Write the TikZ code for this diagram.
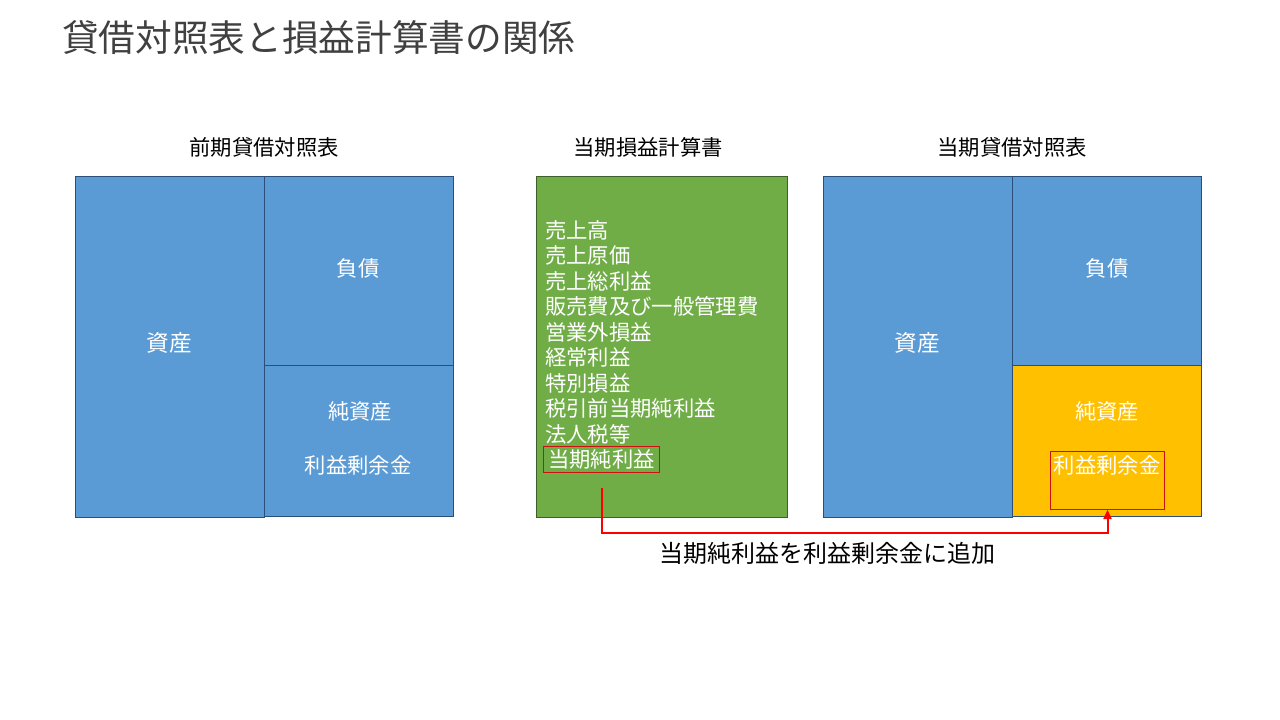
\documentclass[tikz,border=0pt]{standalone}
\usepackage{fontspec}
\setmainfont{Noto Sans CJK JP}
\usetikzlibrary{arrows.meta}
\definecolor{bsblue}{HTML}{5B9BD5}
\definecolor{bsedge}{HTML}{2B4F78}
\definecolor{plgreen}{HTML}{70AD47}
\definecolor{pledge}{HTML}{3F5F2A}
\definecolor{eqyellow}{HTML}{FFC000}
\definecolor{titlegray}{HTML}{404040}
\definecolor{boxred}{HTML}{D01010}
\definecolor{arrowred}{HTML}{FF0000}
\begin{document}
\begin{tikzpicture}[x=0.75pt,y=-0.75pt,
    blk/.style={fill=bsblue,draw=bsedge,line width=0.75pt},
    inbox/.style={text=white,inner sep=0,font=\fontsize{16}{19}\selectfont},
    head/.style={inner sep=0,font=\fontsize{16}{19}\selectfont}]
\useasboundingbox (0,0) rectangle (1280,720);

\node[anchor=west,inner sep=0,text=titlegray,font=\fontsize{27.5}{32}\selectfont] (title) at (62,38) {貸借対照表と損益計算書の関係};

\node[head] (h1) at (264,147) {前期貸借対照表};
\node[head] (h2) at (648,147) {当期損益計算書};
\node[head] (h3) at (1012,147) {当期貸借対照表};

% previous balance sheet
\filldraw[blk] (75,177) rectangle (264,517);
\filldraw[blk] (264,177) rectangle (453,365);
\filldraw[blk] (264,365) rectangle (453,516);
\node[inbox,font=\fontsize{17}{20}\selectfont] (a1) at (169,343) {資産};
\node[inbox] (d1) at (358,268) {負債};
\node[inbox] (e1) at (360,411) {純資産};
\node[inbox] (r1) at (358,465) {利益剰余金};

% income statement
\filldraw[fill=plgreen,draw=pledge,line width=0.75pt] (536,177) rectangle (787,517);
\foreach \t [count=\i] in {売上高,売上原価,売上総利益,販売費及び一般管理費,営業外損益,経常利益,特別損益,税引前当期純利益,法人税等}
    \node[inbox,anchor=west] (pl\i) at (545,{230+25.5*(\i-1)}) {\t};
\node[inbox,anchor=west,draw=boxred,line width=0.75pt,inner xsep=3.5pt,minimum height=19.5pt] (np) at (543,459) {当期純利益};

% current balance sheet
\filldraw[blk] (823,177) rectangle (1012,517);
\filldraw[blk] (1012,177) rectangle (1201,365);
\filldraw[fill=eqyellow,draw=bsedge,line width=0.75pt] (1012,365) rectangle (1201,516);
\node[inbox,font=\fontsize{17}{20}\selectfont] (a2) at (917,343) {資産};
\node[inbox] (d2) at (1107,268) {負債};
\node[inbox] (e2) at (1107,411) {純資産};
\node[draw=boxred,line width=0.75pt,minimum width=86pt,minimum height=43pt] (re) at (1107.5,480.5) {};
\node[inbox] (r2) at (1107,465) {利益剰余金};

\draw[arrowred,line width=1.5pt,-{Triangle[length=7pt,width=6pt]}] ([yshift=-11.25pt]np.south) -- ++(0,45) -| (re.south);
\node[inner sep=0,font=\fontsize{18}{22}\selectfont] (add) at (827,553) {当期純利益を利益剰余金に追加};

\end{tikzpicture}
\end{document}
